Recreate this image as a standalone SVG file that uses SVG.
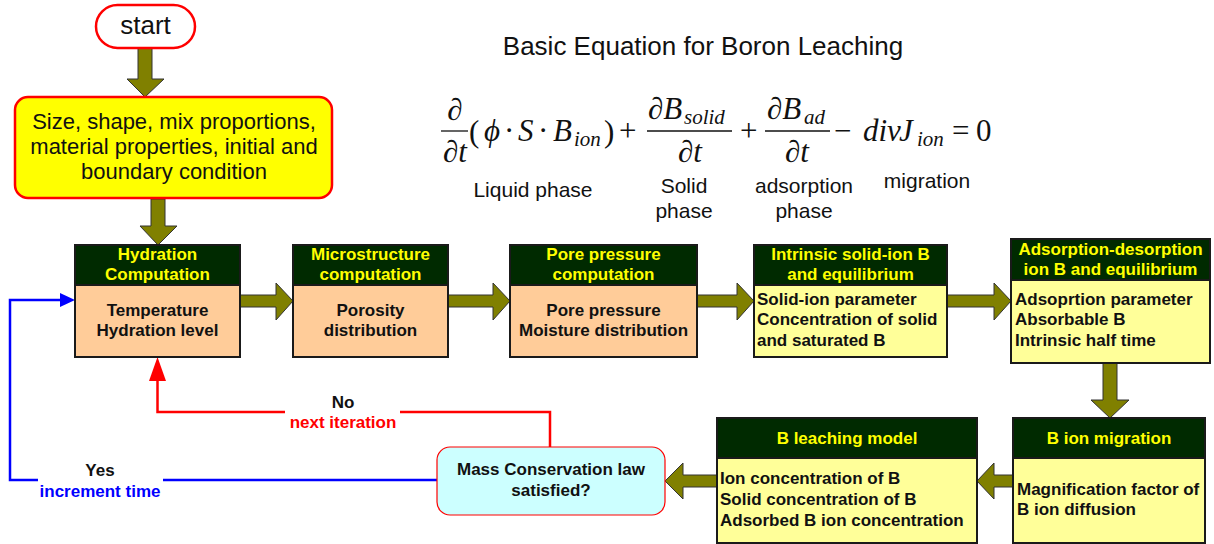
<svg xmlns="http://www.w3.org/2000/svg" width="1214" height="544" viewBox="0 0 1214 544">
<style>
.hdr{fill:#002a00;stroke:#1a1a1a;stroke-width:2}
.peach{fill:#FFCC99;stroke:#1a1a1a;stroke-width:2}
.ly{fill:#FFFF99;stroke:#1a1a1a;stroke-width:2}
.ht{font-family:"Liberation Sans",Arial,sans-serif;font-weight:bold;font-size:17px;fill:#FFFF00;text-anchor:middle}
.bt{font-family:"Liberation Sans",Arial,sans-serif;font-weight:bold;font-size:17px;fill:#111}
.c{text-anchor:middle}
.arr{fill:#808000;stroke:#333;stroke-width:1}
.lbl{font-family:"Liberation Sans",Arial,sans-serif;font-size:21px;fill:#111;text-anchor:middle}
.eq{font-family:"Liberation Serif","Times New Roman",serif;font-size:31px;fill:#111}
.it{font-style:italic}
.sub{font-family:"Liberation Serif","Times New Roman",serif;font-style:italic;font-size:21px;fill:#111}
.red{fill:none;stroke:#FF0000;stroke-width:2.5}
.blue{fill:none;stroke:#0000FF;stroke-width:2.5}
</style>

<g id="title">
<text x="703" y="55" font-family="Liberation Sans, Arial, sans-serif" font-size="26" fill="#111" text-anchor="middle">Basic Equation for Boron Leaching</text>
</g>

<g id="equation">
<line x1="441" y1="131" x2="468" y2="131" stroke="#111" stroke-width="1.3"/>
<text class="eq" x="455" y="120" text-anchor="middle">∂</text>
<text class="eq it" x="455" y="162" text-anchor="middle">∂t</text>
<text class="eq" x="469" y="142" font-size="37">(</text>
<text class="eq it" x="484" y="141" font-family="DejaVu Serif, serif" font-size="26">ϕ</text>
<text class="eq" x="504" y="141">·</text>
<text class="eq it" x="518" y="141">S</text>
<text class="eq" x="538" y="141">·</text>
<text class="eq it" x="553" y="141">B</text>
<text class="sub" x="574" y="146">ion</text>
<text class="eq" x="604" y="142" font-size="37">)</text>
<text class="eq" x="619" y="141">+</text>
<line x1="647" y1="131" x2="732" y2="131" stroke="#111" stroke-width="1.3"/>
<text class="eq it" x="648" y="119">∂B</text>
<text class="sub" x="684" y="124">solid</text>
<text class="eq it" x="690" y="162" text-anchor="middle">∂t</text>
<text class="eq" x="740" y="141">+</text>
<line x1="765" y1="131" x2="830" y2="131" stroke="#111" stroke-width="1.3"/>
<text class="eq it" x="767" y="119">∂B</text>
<text class="sub" x="804" y="124">ad</text>
<text class="eq it" x="797" y="162" text-anchor="middle">∂t</text>
<text class="eq" x="834" y="141">−</text>
<text class="eq it" x="863" y="141">div</text>
<text class="eq it" x="899" y="141">J</text>
<text class="sub" x="917" y="146">ion</text>
<text class="eq" x="952" y="141">=</text>
<text class="eq" x="976" y="141">0</text>
<text class="lbl" x="533" y="197">Liquid phase</text>
<text class="lbl" x="684" y="193">Solid</text>
<text class="lbl" x="684" y="218">phase</text>
<text class="lbl" x="804" y="193">adsorption</text>
<text class="lbl" x="804" y="218">phase</text>
<text class="lbl" x="927" y="188">migration</text>
</g>

<g id="connectors">
<polygon class="arr" points="138,48 152,48 152,79 164,79 145,97 127,79 138,79"/>
<polygon class="arr" points="151,199 165,199 165,226 177,226 158,245 140,226 151,226"/>
<polygon class="arr" points="240,295 276,295 276,283 293,301 276,320 276,307 240,307"/>
<polygon class="arr" points="448,295 493,295 493,283 510,301 493,320 493,307 448,307"/>
<polygon class="arr" points="697,295 737,295 737,283 754,301 737,320 737,307 697,307"/>
<polygon class="arr" points="947,295 994,295 994,283 1011,301 994,320 994,307 947,307"/>
<polygon class="arr" points="1103,363 1117,363 1117,400 1129,400 1110,418 1091,400 1103,400"/>
<polygon class="arr" points="1013,475 994,475 994,463 977,481 994,499 994,487 1013,487"/>
<polygon class="arr" points="717,475 683,475 683,463 665,481 683,499 683,487 717,487"/>
<polyline class="red" points="550,447 550,412 400,412"/>
<polyline class="red" points="285,412 157.5,412 157.5,378"/>
<polygon points="149,381 166,381 157.5,357" fill="#FF0000"/>
<polyline class="blue" points="437,480 163,480"/>
<polyline class="blue" points="38,480 10,480 10,300 62,300"/>
<polygon points="60,293 60,307 75,300" fill="#0000FF"/>
<text class="bt c" x="343" y="408">No</text>
<text class="bt c" x="343" y="428" style="fill:#FF0000">next iteration</text>
<text class="bt c" x="100" y="476">Yes</text>
<text class="bt c" x="100" y="497" style="fill:#0000FF">increment time</text>
</g>

<g id="start">
<rect x="96" y="5" width="99" height="43" rx="21.5" fill="#fff" stroke="#FF0000" stroke-width="2.5"/>
<text x="145.5" y="34" font-family="Liberation Sans, Arial, sans-serif" font-size="26" fill="#111" text-anchor="middle">start</text>
</g>

<g id="input">
<rect x="15" y="97" width="317" height="101" rx="13" fill="#FFFF00" stroke="#FF0000" stroke-width="2.5"/>
<g font-family="Liberation Sans, Arial, sans-serif" font-size="22" fill="#111" text-anchor="middle">
<text x="174" y="129">Size, shape, mix proportions,</text>
<text x="174" y="154">material properties, initial and</text>
<text x="174" y="179">boundary condition</text>
</g>
</g>

<g id="hydration">
<rect class="peach" x="75" y="285" width="165" height="72"/>
<rect class="hdr" x="75" y="245" width="165" height="40"/>
<text class="ht" x="157.5" y="260">Hydration</text>
<text class="ht" x="157.5" y="280">Computation</text>
<text class="bt c" x="157.5" y="316">Temperature</text>
<text class="bt c" x="157.5" y="336">Hydration level</text>
</g>

<g id="microstructure">
<rect class="peach" x="293" y="285" width="155" height="72"/>
<rect class="hdr" x="293" y="245" width="155" height="40"/>
<text class="ht" x="370.5" y="260">Microstructure</text>
<text class="ht" x="370.5" y="280">computation</text>
<text class="bt c" x="370.5" y="316">Porosity</text>
<text class="bt c" x="370.5" y="336">distribution</text>
</g>

<g id="pore">
<rect class="peach" x="510" y="285" width="187" height="72"/>
<rect class="hdr" x="510" y="245" width="187" height="40"/>
<text class="ht" x="603.5" y="260">Pore pressure</text>
<text class="ht" x="603.5" y="280">computation</text>
<text class="bt c" x="603.5" y="316">Pore pressure</text>
<text class="bt c" x="603.5" y="336">Moisture distribution</text>
</g>

<g id="intrinsic">
<rect class="ly" x="754" y="285" width="193" height="72"/>
<rect class="hdr" x="754" y="245" width="193" height="40"/>
<text class="ht" x="850.5" y="260">Intrinsic solid-ion B</text>
<text class="ht" x="850.5" y="280">and equilibrium</text>
<text class="bt" x="757" y="305">Solid-ion parameter</text>
<text class="bt" x="757" y="325">Concentration of solid</text>
<text class="bt" x="757" y="346">and saturated B</text>
</g>

<g id="adsorption">
<rect class="ly" x="1011" y="280" width="199" height="83"/>
<rect class="hdr" x="1011" y="239" width="199" height="41"/>
<text class="ht" x="1110.5" y="255">Adsorption-desorption</text>
<text class="ht" x="1110.5" y="275">ion B and equilibrium</text>
<text class="bt" x="1015" y="305">Adsoprtion parameter</text>
<text class="bt" x="1015" y="325">Absorbable B</text>
<text class="bt" x="1015" y="346">Intrinsic half time</text>
</g>

<g id="migration">
<rect class="ly" x="1013" y="458" width="192" height="85"/>
<rect class="hdr" x="1013" y="418" width="192" height="40"/>
<text class="ht" x="1109" y="444">B ion migration</text>
<text class="bt" x="1017" y="495">Magnification factor of</text>
<text class="bt" x="1017" y="515">B ion diffusion</text>
</g>

<g id="leaching">
<rect class="ly" x="717" y="458" width="260" height="85"/>
<rect class="hdr" x="717" y="418" width="260" height="40"/>
<text class="ht" x="847" y="444">B leaching model</text>
<text class="bt" x="720" y="484">Ion concentration of B</text>
<text class="bt" x="720" y="505">Solid concentration of B</text>
<text class="bt" x="720" y="526">Adsorbed B ion concentration</text>
</g>

<g id="mass">
<rect x="437" y="447" width="228" height="68" rx="13" fill="#CCFFFF" stroke="#FF0000" stroke-width="1.2"/>
<text class="bt c" x="551" y="475">Mass Conservation law</text>
<text class="bt c" x="551" y="496">satisfied?</text>
</g>
</svg>
